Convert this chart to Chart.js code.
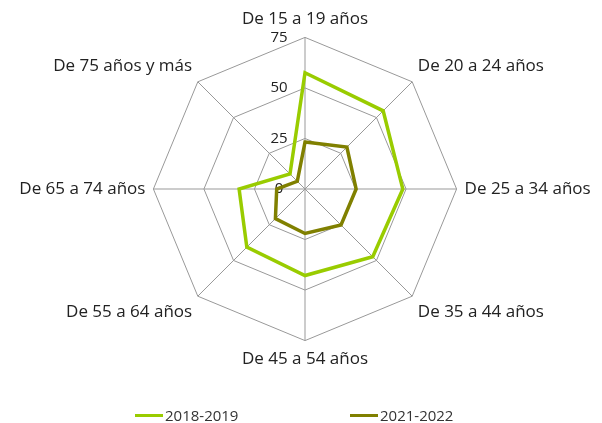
<!DOCTYPE html>
<html>
<head>
<meta charset="utf-8">
<script src="https://cdn.jsdelivr.net/npm/chart.js@4.4.0/dist/chart.umd.min.js"></script>
<style>
  html, body { margin: 0; padding: 0; background: #fff; }
  #wrap { position: relative; width: 602px; height: 423px; }
  #legend { position: absolute; left: 0; top: 405px; width: 602px; height: 20px;
    font-family: 'Open Sans', sans-serif; font-size: 15px; color: #333; }
  .item { position: absolute; top: 0; display: flex; align-items: center; }
  .swatch { width: 28px; height: 3px; margin-right: 2px; }
</style>
</head>
<body>
<div id="wrap">
  <canvas id="myChart" width="602" height="423"></canvas>
  <div id="legend"></div>
</div>
<script>
//** DATA */
const labels = ['De 15 a 19 años', 'De 20 a 24 años', 'De 25 a 34 años', 'De 35 a 44 años',
  'De 45 a 54 años', 'De 55 a 64 años', 'De 65 a 74 años', 'De 75 años y más'];
const serie2018 = [57.5, 54.7, 48.4, 47.4, 42.8, 40.7, 32.6, 10.5];
const serie2021 = [23.2, 29.3, 25.3, 25.2, 22, 20.7, 14, 5.4];
const tickValues = [0, 25, 50, 75];

const green = 'rgb(153,204,0)';
const olive = 'rgb(128,128,0)';
const fontFamily = "'Open Sans', sans-serif";

//** DRAW TICK LABELS LEFT OF THE VERTICAL AXIS */
const tickPlugin = {
  id: 'tickLabels',
  beforeDatasetsDraw(chart) {
    const scale = chart.scales.r;
    const c = chart.ctx;
    c.save();
    c.font = '15px ' + fontFamily;
    c.fillStyle = '#222';
    c.textAlign = 'center';
    c.textBaseline = 'middle';
    tickValues.forEach(v => {
      const d = scale.getDistanceFromCenterForValue(v);
      c.fillText(String(v), scale.xCenter - 26, scale.yCenter - d);
    });
    c.restore();
  }
};

const ctx = document.getElementById('myChart');
const chart = new Chart(ctx, {
  type: 'radar',
  data: {
    labels: labels,
    datasets: [
      { label: '2018-2019', data: serie2018, borderColor: green, backgroundColor: green,
        borderWidth: 3.5, pointRadius: 0, fill: false },
      { label: '2021-2022', data: serie2021, borderColor: olive, backgroundColor: olive,
        borderWidth: 3.5, pointRadius: 0, fill: false },
    ],
  },
  options: {
    responsive: false,
    animation: false,
    layout: { padding: { top: 9, bottom: 53, left: 8, right: 0 } },
    plugins: {
      legend: { display: false },
      tooltip: { enabled: false },
    },
    scales: {
      r: {
        min: 0,
        max: 75,
        ticks: { stepSize: 25, display: false },
        grid: { color: '#999', lineWidth: 1 },
        angleLines: { color: '#999', lineWidth: 1 },
        pointLabels: { color: '#222', padding: 8, font: { family: fontFamily, size: 17 } },
      },
    },
  },
  plugins: [tickPlugin],
});

//** HTML LEGEND */
const legendPos = [135, 350];
const legendEl = document.getElementById('legend');
chart.data.datasets.forEach((ds, i) => {
  const item = document.createElement('div');
  item.className = 'item';
  item.style.left = legendPos[i] + 'px';
  item.innerHTML = '<span class="swatch" style="background:' + ds.borderColor + '"></span>' + ds.label;
  legendEl.appendChild(item);
});
</script>
</body>
</html>
